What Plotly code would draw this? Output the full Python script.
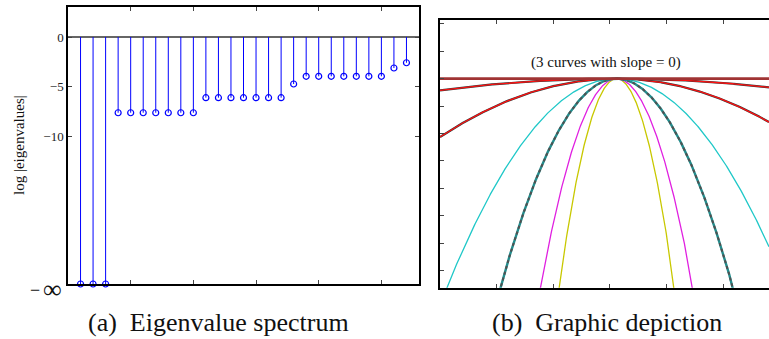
import numpy as np
import plotly.graph_objects as go

# ---- (a) eigenvalue spectrum: log|eigenvalue| per eigenvalue index ----
eig_index = list(range(1, 28))
log_eig = ([float("-inf")] * 3 + [-7.65] * 7 + [-6.13] * 7 + [-4.75]
           + [-3.97] * 7 + [-3.13, -2.6])
neg_inf_level = -24.95          # where log(0) is drawn on the axis
ytick_vals = [0, -5, -10]
ytick_text = ["0", "\u22125", "\u221210"]
xtick_vals = [5, 10, 15, 20, 25]

# ---- (b) graphic depiction: parabolas through a common peak ----
peak_x = 3.12
curvatures = [0.0, 0.044, 0.219, 0.848, 1.81, 4.21, 7.37]

FONT = "Liberation Serif"
BLUE = "#0000ff"
W, H = 769, 339

fig = go.Figure()

# stems of panel (a)
plot_vals = [v if np.isfinite(v) else neg_inf_level for v in log_eig]
sx, sy = [], []
for i, v in zip(eig_index, plot_vals):
    sx += [i, i, None]
    sy += [0, v, None]

fig.add_trace(go.Scatter(x=[0, 28], y=[0, 0], mode="lines",
                         line=dict(color="#333333", width=1.3),
                         xaxis="x", yaxis="y", hoverinfo="skip"))
fig.add_trace(go.Scatter(x=sx, y=sy, mode="lines",
                         line=dict(color=BLUE, width=1),
                         xaxis="x", yaxis="y", hoverinfo="skip"))
fig.add_trace(go.Scatter(x=eig_index, y=plot_vals, mode="markers",
                         marker=dict(symbol="circle-open", size=6,
                                     color=BLUE, line=dict(width=1.2)),
                         cliponaxis=False, xaxis="x", yaxis="y"))

# curves of panel (b)
xs = np.linspace(0, 5.81, 600)

def parab(k):
    return -k * (xs - peak_x) ** 2

def add_curve(k, color, width, dash="solid"):
    fig.add_trace(go.Scatter(x=xs, y=parab(k), mode="lines",
                             line=dict(color=color, width=width, dash=dash),
                             xaxis="x2", yaxis="y2", hoverinfo="skip"))

add_curve(curvatures[6], "#c8c800", 1.3)
add_curve(curvatures[5], "#e020e0", 1.3)
add_curve(curvatures[4], "#238c8c", 2.4)
add_curve(curvatures[4], "#505050", 2.0, dash="dot")
add_curve(curvatures[3], "#20c8c8", 1.3)
add_curve(curvatures[2], "#2f3f3f", 2.2)
add_curve(curvatures[2], "#ff1010", 1.3)
add_curve(curvatures[1], "#2f3f3f", 2.2)
add_curve(curvatures[1], "#ff1010", 1.3)
add_curve(curvatures[0], "#a03434", 2.6)

axis_common = dict(showgrid=False, zeroline=False, showline=True,
                   linecolor="black", linewidth=1.5, ticks="inside",
                   ticklen=4, tickcolor="#444", tickwidth=1)

fig.update_layout(
    width=W, height=H,
    margin=dict(l=0, r=0, t=0, b=0),
    paper_bgcolor="white", plot_bgcolor="white",
    showlegend=False,
    font=dict(family=FONT, color="#222"),
    xaxis=dict(domain=[68 / W, 419 / W], range=[0, 28],
               tickvals=xtick_vals, showticklabels=False,
               mirror="ticks", anchor="y", **axis_common),
    yaxis=dict(domain=[1 - 284 / H, 1 - 7 / H],
               range=[neg_inf_level, 3.03],
               tickvals=ytick_vals, ticktext=ytick_text,
               tickfont=dict(family=FONT, size=13, color="#222"),
               mirror="ticks", anchor="x", **axis_common),
    xaxis2=dict(domain=[440 / W, 1.0], range=[0, 5.81], dtick=1,
                tick0=0, showticklabels=False, mirror="ticks",
                anchor="y2", **axis_common),
    yaxis2=dict(domain=[1 - 287.7 / H, 1 - 20 / H],
                range=[-7.63, 2.14], dtick=1, tick0=0,
                showticklabels=False, mirror=False, anchor="x2",
                **axis_common),
)

# text placed by pixel position (x, y from top-left), centred on that point
labels = [
    ("\u2212", 35, 290, 18, 0),
    ("\u221e", 52, 289, 26, 0),
    ("log |eigenvalues|", 19, 145, 15, -90),
    ("(3 curves with slope = 0)", 606, 62, 15, 0),
    ("(a)  Eigenvalue spectrum", 218, 322, 26, 0),
    ("(b)  Graphic depiction", 607, 322, 26, 0),
]
fig.update_layout(annotations=[
    dict(text=t, x=px / W, y=1 - py / H, xref="paper", yref="paper",
         xanchor="center", yanchor="middle", textangle=ang,
         showarrow=False, font=dict(family=FONT, size=sz, color="#111"))
    for t, px, py, sz, ang in labels
])

fig.write_html("out.html")
